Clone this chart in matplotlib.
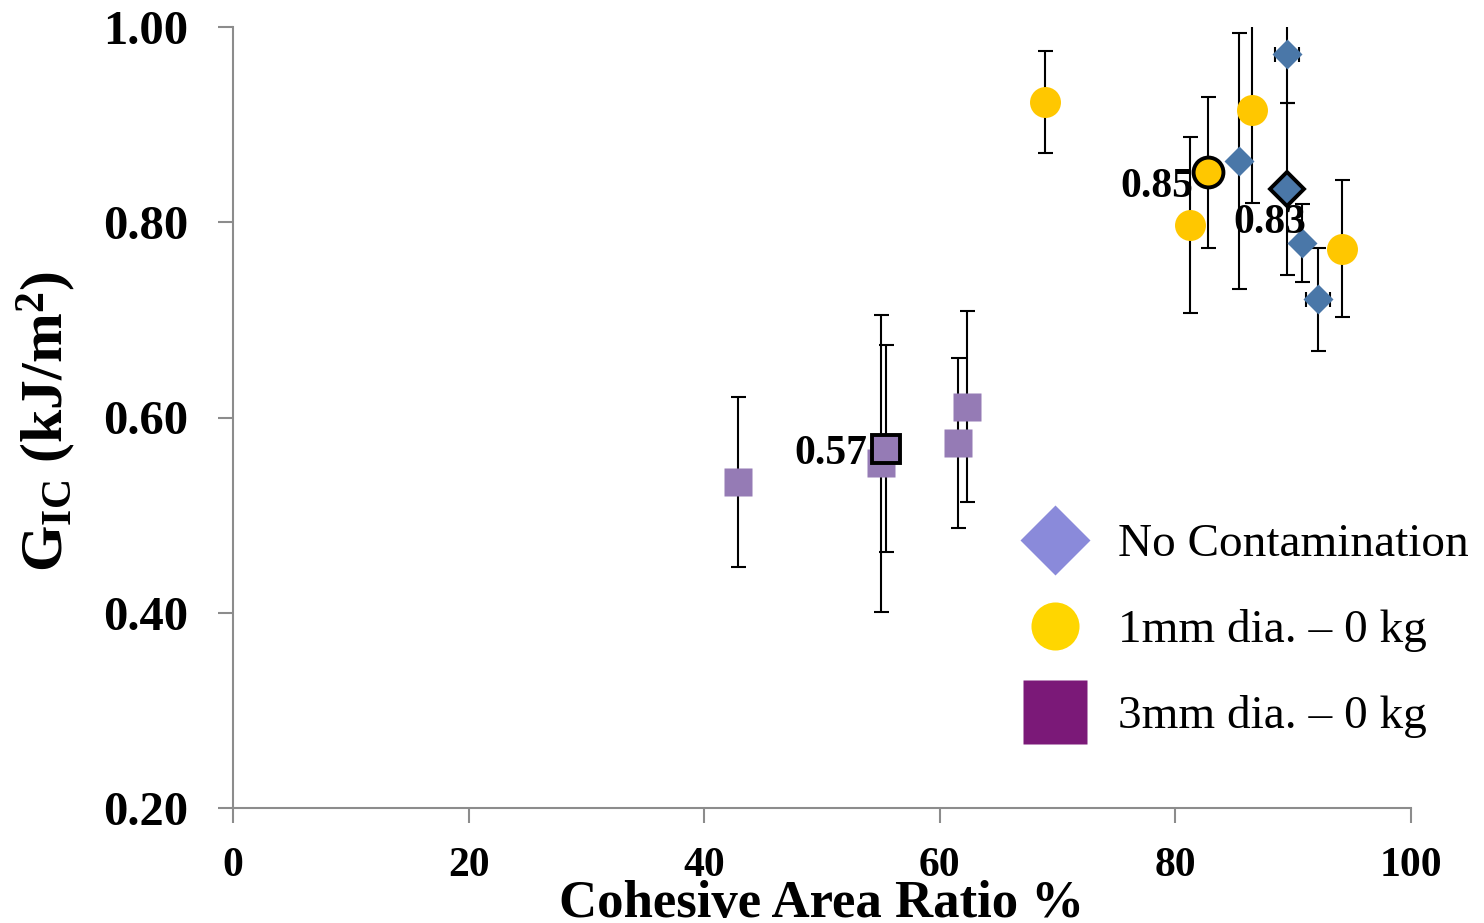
import matplotlib
matplotlib.use("Agg")
import matplotlib.pyplot as plt
from matplotlib.lines import Line2D
from matplotlib.ticker import FormatStrFormatter

# ---------------- data ----------------
nc_x = [89.47, 85.40, 90.75, 92.11]
nc_y = [0.972, 0.863, 0.779, 0.721]
nc_yerr = [0.050, 0.131, 0.040, 0.053]
nc_xerr = [1.0, 0.4, 0.4, 1.0]
nc_mean_x, nc_mean_y, nc_mean_err = 89.47, 0.834, 0.088

d1_x = [68.93, 86.50, 81.24, 94.14]
d1_y = [0.923, 0.915, 0.797, 0.773]
d1_yerr = [0.052, 0.095, 0.090, 0.070]
d1_mean_x, d1_mean_y, d1_mean_err = 82.77, 0.851, 0.077

d3_x = [42.87, 55.01, 61.57, 62.28]
d3_y = [0.534, 0.553, 0.574, 0.611]
d3_yerr = [0.087, 0.152, 0.087, 0.098]
d3_mean_x, d3_mean_y, d3_mean_err = 55.41, 0.568, 0.106

legend_labels = ["No Contamination", "1mm dia. \u2013 0 kg", "3mm dia. \u2013 0 kg"]
x_ticks = [0, 20, 40, 60, 80, 100]
y_ticks = [0.20, 0.40, 0.60, 0.80, 1.00]

# ---------------- style ----------------
plt.rcParams['font.family'] = ['Liberation Serif', 'DejaVu Serif']
plt.rcParams['mathtext.fontset'] = 'custom'
plt.rcParams['mathtext.rm'] = 'Liberation Serif'
plt.rcParams['mathtext.bf'] = 'Liberation Serif:bold'
plt.rcParams['mathtext.it'] = 'Liberation Serif:italic'

BLUE = '#4A77A8'
YELLOW = '#FFC700'
PURPLE = '#957BB5'
LEG_BLUE = '#8A8ADA'
LEG_YELLOW = '#FFD600'
LEG_PURPLE = '#7B1978'
SPINE = '#8C8C8C'

fig = plt.figure(figsize=(14.84, 9.23), dpi=100)
ax = fig.add_axes([233/1484, 1-808/923, (1411-233)/1484, (808-27)/923])

eb_kw = dict(fmt='none', ecolor='black', elinewidth=1.5, capsize=5.4, capthick=1.5, zorder=2)
ax.errorbar(nc_x, nc_y, yerr=nc_yerr, xerr=nc_xerr, **eb_kw)
ax.errorbar(d1_x, d1_y, yerr=d1_yerr, **eb_kw)
ax.errorbar(d3_x, d3_y, yerr=d3_yerr, **eb_kw)
ax.errorbar([nc_mean_x], [nc_mean_y], yerr=[nc_mean_err], **eb_kw)
ax.errorbar([d1_mean_x], [d1_mean_y], yerr=[d1_mean_err], **eb_kw)
ax.errorbar([d3_mean_x], [d3_mean_y], yerr=[d3_mean_err], **eb_kw)

ax.plot(nc_x, nc_y, linestyle='none', marker='D', ms=15.5, mfc=BLUE, mec='none', zorder=3, clip_on=False)
ax.plot(d1_x, d1_y, linestyle='none', marker='o', ms=22.3, mfc=YELLOW, mec='none', zorder=3)
ax.plot(d3_x, d3_y, linestyle='none', marker='s', ms=20, mfc=PURPLE, mec='none', zorder=3)

ax.plot([nc_mean_x], [nc_mean_y], linestyle='none', marker='D', ms=17, mfc=BLUE, mec='black', mew=2.8, zorder=4)
ax.plot([d1_mean_x], [d1_mean_y], linestyle='none', marker='o', ms=21.5, mfc=YELLOW, mec='black', mew=2.8, zorder=4)
ax.plot([d3_mean_x], [d3_mean_y], linestyle='none', marker='s', ms=20.5, mfc=PURPLE, mec='black', mew=2.8, zorder=4)

lab_kw = dict(textcoords='offset points', fontsize=30, fontweight='bold', va='baseline', zorder=5)
ax.annotate(f"{d1_mean_y:.2f}", (d1_mean_x, d1_mean_y), xytext=(-10.8, -18), ha='right', **lab_kw)
ax.annotate(f"{nc_mean_y:.2f}", (nc_mean_x, nc_mean_y), xytext=(-38.5, -31.7), ha='left', **lab_kw)
ax.annotate(f"{d3_mean_y:.2f}", (d3_mean_x, d3_mean_y), xytext=(-13.5, -10.8), ha='right', **lab_kw)

ax.set_xlim(0, 100)
ax.set_ylim(0.20, 1.00)
ax.set_xticks(x_ticks)
ax.set_yticks(y_ticks)
ax.yaxis.set_major_formatter(FormatStrFormatter('%.2f'))

for s in ['top', 'right']:
    ax.spines[s].set_visible(False)
for s in ['left', 'bottom']:
    ax.spines[s].set_color(SPINE)
    ax.spines[s].set_linewidth(1.5)

ax.tick_params(axis='both', direction='out', length=11, width=1.5, color=SPINE)
ax.tick_params(axis='y', pad=21, labelsize=35)
ax.tick_params(axis='x', pad=17, labelsize=30)
for t in ax.get_xticklabels() + ax.get_yticklabels():
    t.set_fontweight('bold')

ax.set_xlabel("Cohesive Area Ratio %", fontsize=38, fontweight='bold')
ax.xaxis.set_label_coords(0.5, -0.092)
ax.set_ylabel(r"$\mathbf{G}_{\mathbf{IC}}$ (kJ/m$^{\mathbf{2}}$)", fontsize=43, fontweight='bold')
ax.yaxis.set_label_coords(-0.132, 0.495)

handles = [
    Line2D([], [], linestyle='none', marker='D', ms=35.6, mfc=LEG_BLUE, mec='none'),
    Line2D([], [], linestyle='none', marker='o', ms=34.6, mfc=LEG_YELLOW, mec='none'),
    Line2D([], [], linestyle='none', marker='s', ms=46, mfc=LEG_PURPLE, mec='none'),
]
leg = fig.legend(handles, legend_labels, loc='upper left',
                 bbox_to_anchor=(1020/1484, 1-523/923), frameon=False,
                 fontsize=34, handlelength=1.5, handletextpad=0.57,
                 labelspacing=0.91, borderpad=0, borderaxespad=0)

fig.savefig("out.png", dpi=100)
